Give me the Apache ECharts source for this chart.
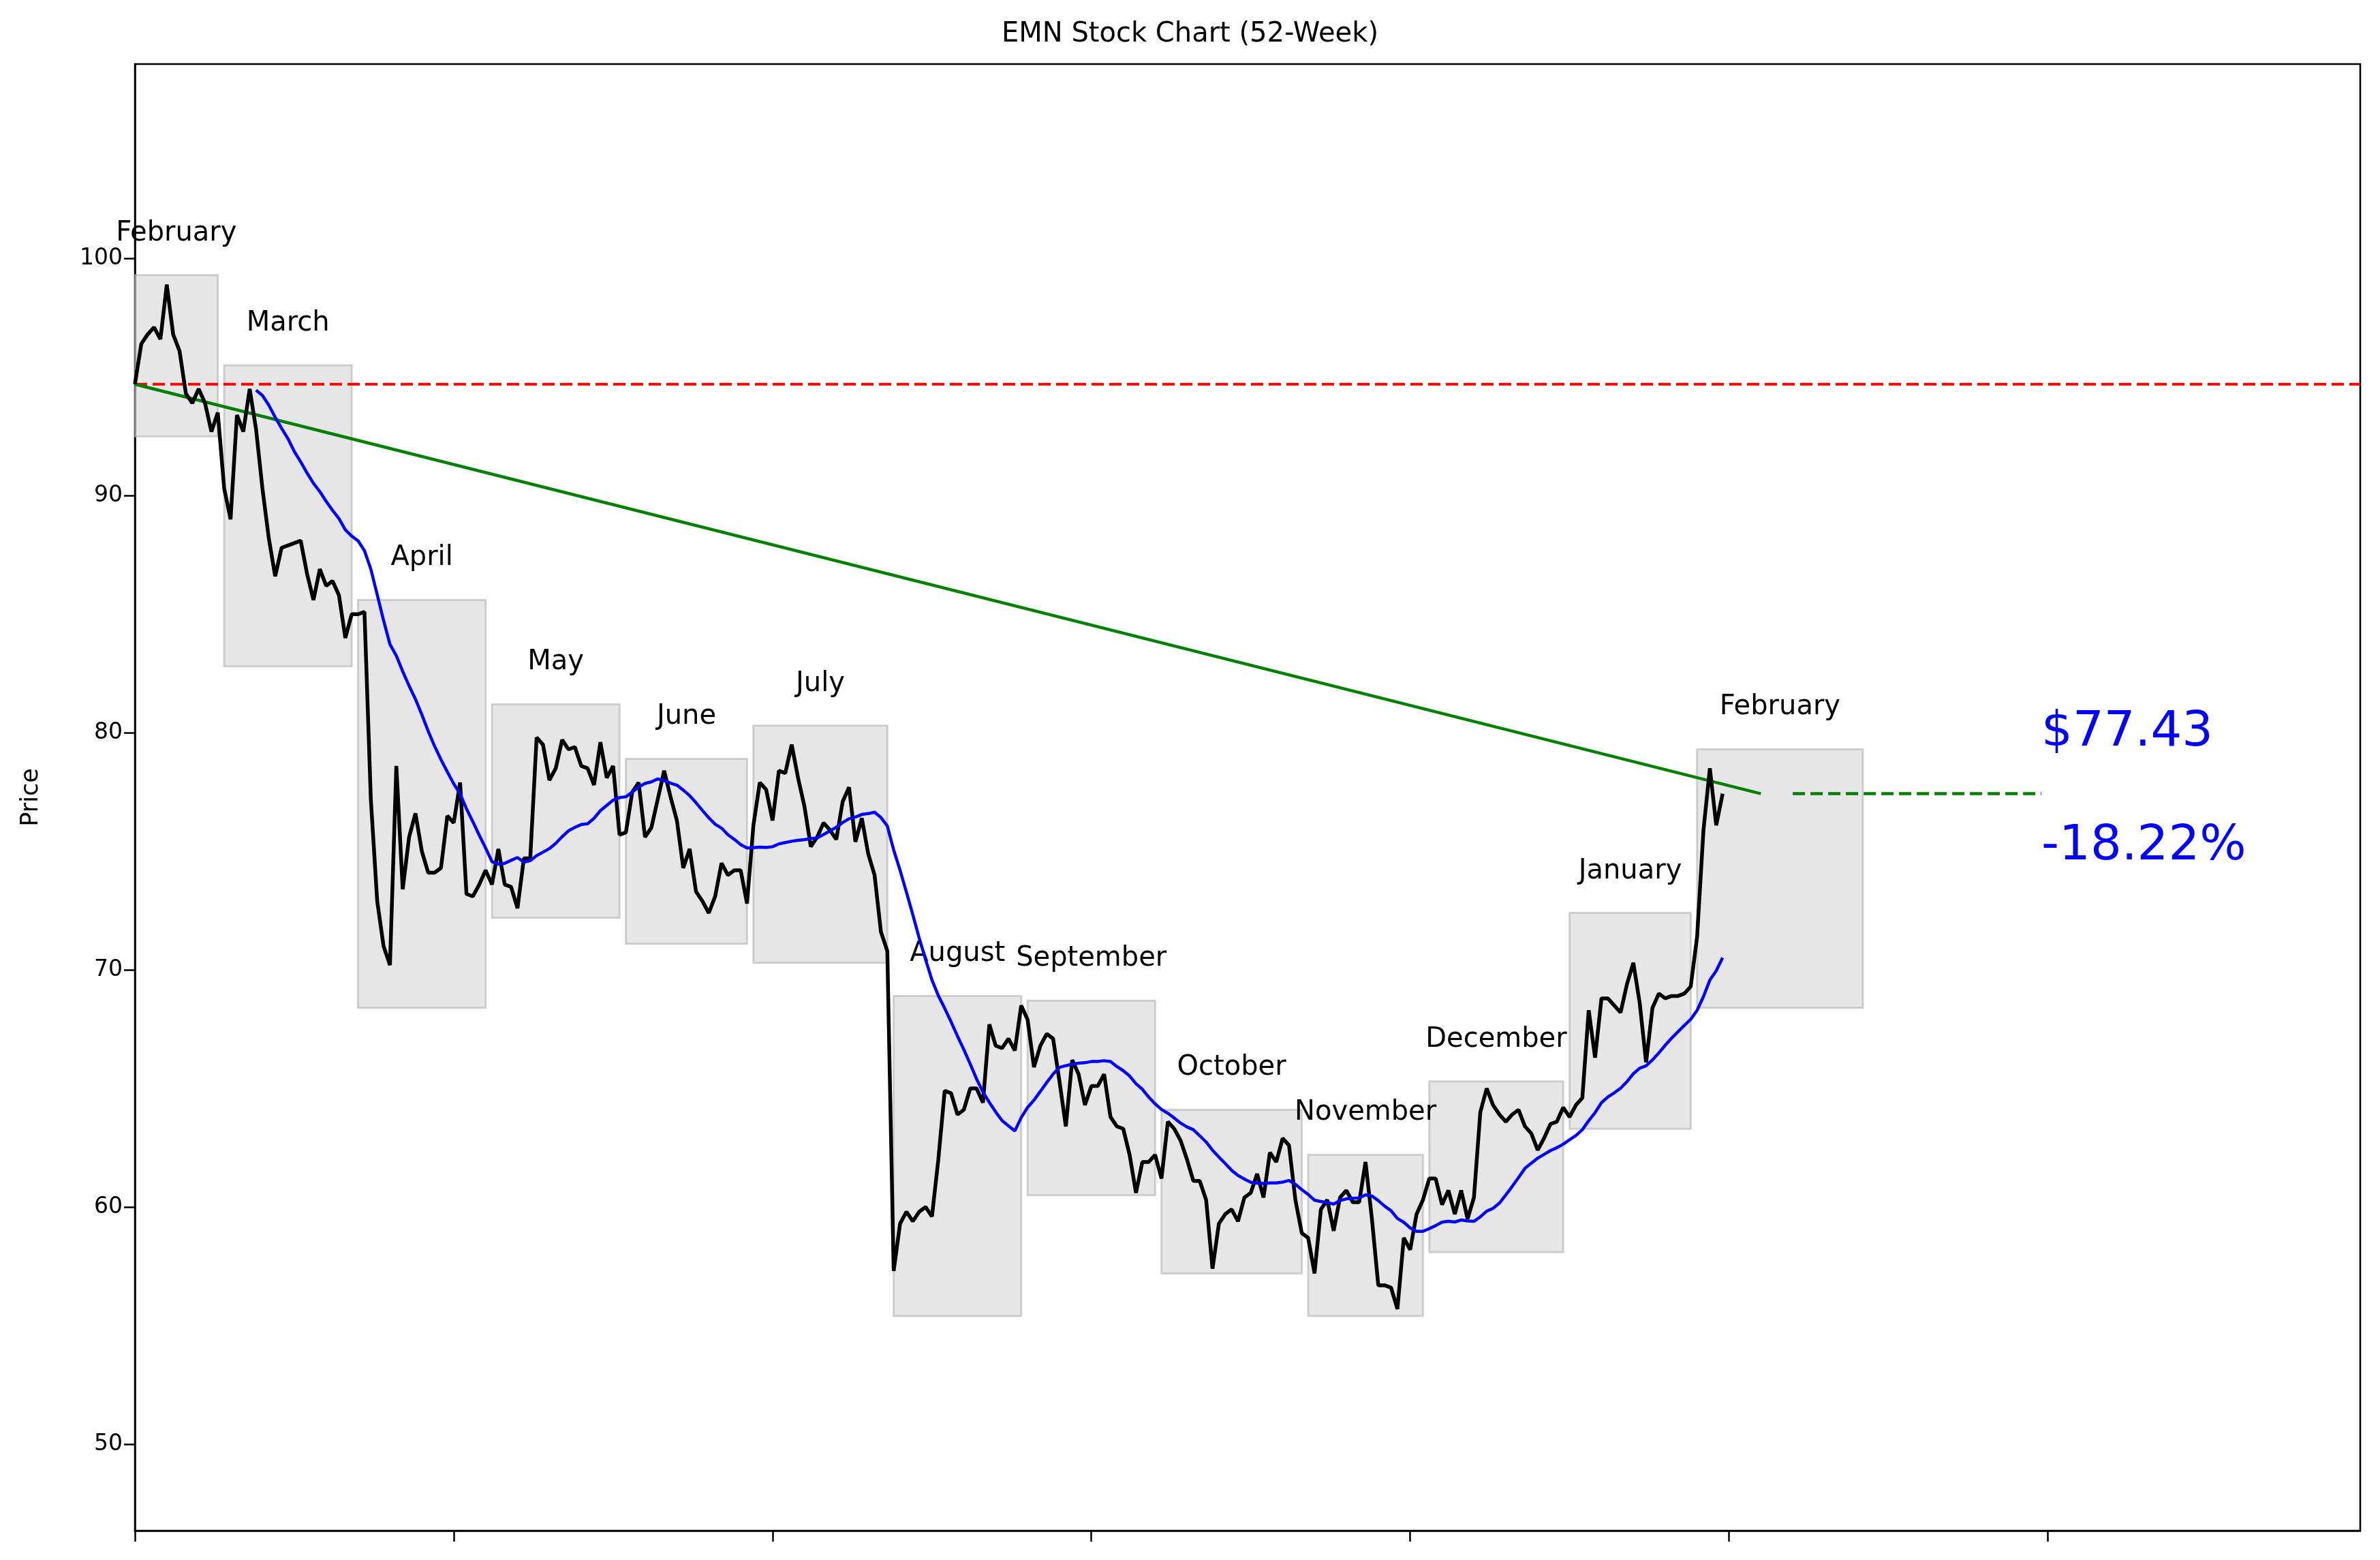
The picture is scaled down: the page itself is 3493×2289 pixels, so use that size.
<!DOCTYPE html>
<html><head><meta charset="utf-8">
<script src="https://cdn.jsdelivr.net/npm/echarts@6/dist/echarts.min.js"></script>
<style>html,body{margin:0;padding:0;background:#fff}#c{width:3493px;height:2289px}</style>
</head><body><div id="c"></div>
<script>
const prices = [
94.7,96.4,96.8,97.1,96.6,98.9,96.8,96.1,94.3,93.9,94.5,93.9,92.7,93.5,
90.3,89.0,93.4,92.7,94.5,92.8,90.3,88.2,86.6,87.8,87.9,88.0,88.1,86.7,85.6,86.9,86.2,86.4,85.8,84.0,85.0,
85.0,85.1,77.2,72.9,71.0,70.2,78.6,73.4,75.6,76.6,75.0,74.1,74.1,74.3,76.5,76.2,77.9,73.2,73.1,73.6,74.2,
73.6,75.1,73.6,73.5,72.6,74.7,74.7,79.8,79.5,78.0,78.5,79.7,79.3,79.4,78.6,78.5,77.8,79.6,78.1,78.6,75.7,
75.8,77.5,77.9,75.6,76.0,77.2,78.4,77.3,76.3,74.3,75.1,73.3,72.9,72.4,73.1,74.5,74.0,74.2,74.2,72.8,
76.1,77.9,77.6,76.3,78.4,78.3,79.5,78.1,76.9,75.2,75.6,76.2,75.9,75.5,77.1,77.7,75.4,76.4,74.9,74.0,71.6,70.8,
57.3,59.3,59.8,59.4,59.8,60.0,59.6,62.0,64.9,64.8,63.9,64.1,65.0,65.0,64.4,67.7,66.8,66.7,67.1,66.6,68.5,
67.9,65.9,66.8,67.3,67.1,65.3,63.4,66.2,65.6,64.3,65.1,65.1,65.6,63.8,63.4,63.3,62.2,60.6,61.9,61.9,62.2,
61.2,63.6,63.3,62.8,62.0,61.1,61.1,60.3,57.4,59.3,59.7,59.9,59.4,60.4,60.6,61.4,60.4,62.3,61.9,62.9,62.6,60.3,58.9,
58.7,57.2,59.9,60.3,59.0,60.4,60.7,60.2,60.2,61.9,59.5,56.7,56.7,56.6,55.7,58.7,58.2,59.7,60.3,
61.2,61.2,60.1,60.7,59.7,60.7,59.5,60.4,64.0,65.0,64.3,63.9,63.6,63.9,64.1,63.4,63.1,62.4,62.9,63.5,63.6,64.2,
63.8,64.3,64.6,68.3,66.3,68.8,68.8,68.5,68.2,69.4,70.3,68.6,66.1,68.4,69.0,68.8,68.9,68.9,69.0,69.3,
71.4,75.9,78.5,76.1,77.43
];
const monthNames = ["February","March","April","May","June","July","August","September","October","November","December","January","February"];
const boxStart = [0,14,35,56,77,97,119,140,161,184,203,225,245];
const boxEnd   = [13,34,55,76,96,118,139,160,183,202,224,244,271];
const boxLow   = [92.5,82.8,68.4,72.2,71.1,70.3,55.4,60.5,57.2,55.4,58.1,63.3,68.4];
const boxHigh  = [99.3,95.5,85.6,81.2,78.9,80.3,68.9,68.7,64.1,62.2,65.3,72.4,79.3];
const refPrice = 94.7;
const lastPrice = 77.43;
const pctChange = "-18.22%";
const yTicks = [50,60,70,80,90,100];
const xTicks = [0,50,100,150,200,250,300];
const maWindow = 20;

const priceData = prices.map((p,i)=>[i,p]);
const maData = [];
for (let i=maWindow-1;i<prices.length;i++){
  let s=0; for(let j=i-maWindow+1;j<=i;j++) s+=prices[j];
  maData.push([i, s/maWindow]);
}
const areas = boxStart.map((s,i)=>[
  {coord:[s,boxLow[i]], name:monthNames[i]},
  {coord:[boxEnd[i],boxHigh[i]]}
]);
const chart = echarts.init(document.getElementById('c'));
const font = 'DejaVu Sans';
chart.setOption({
  animation:false,
  textStyle:{fontFamily:font},
  title:{text:'EMN Stock Chart (52-Week)', left:'center', top:26,
    textStyle:{fontSize:40, fontWeight:'normal', color:'#000', fontFamily:font}},
  grid:{left:198, right:29, top:94, bottom:43, show:true, borderColor:'#000', borderWidth:2.5, backgroundColor:'transparent'},
  xAxis:{type:'value', min:0, max:349, splitLine:{show:false},
    axisLine:{show:true, onZero:false, lineStyle:{color:'#000', width:2.5}},
    axisTick:{show:true, length:16, lineStyle:{color:'#000', width:2.5}, customValues:xTicks},
    axisLabel:{show:false}},
  yAxis:{type:'value', min:46.35, max:108.2, splitLine:{show:false},
    name:'Price', nameLocation:'middle', nameGap:135, nameTextStyle:{fontSize:35, color:'#000', fontFamily:font},
    axisLine:{show:true, lineStyle:{color:'#000', width:2.5}},
    axisTick:{show:true, length:16, lineStyle:{color:'#000', width:2.5}, customValues:yTicks},
    axisLabel:{fontSize:33, color:'#000', margin:18, customValues:yTicks, fontFamily:font}},
  series:[
    {type:'line', data:[], silent:true,
     markArea:{silent:true, itemStyle:{color:'rgba(200,200,200,0.45)', borderColor:'rgba(180,180,180,0.6)', borderWidth:3},
       label:{show:true, position:'top', distance:40, fontSize:40, color:'#000', fontFamily:font},
       data:areas}},
    {type:'line', data:[[0,refPrice],[349,refPrice]], symbol:'none', silent:true,
     lineStyle:{color:'#ff0000', width:4, type:[18,8]}},
    {type:'line', data:[[0,refPrice],[255,lastPrice]], symbol:'none', silent:true,
     lineStyle:{color:'#008000', width:4.5}},
    {type:'line', data:[[260,lastPrice],[299,lastPrice]], symbol:'none', silent:true,
     lineStyle:{color:'#008000', width:4.5, type:[18,8]}},
    {type:'line', data:priceData, symbol:'none', lineStyle:{color:'#000', width:5.5}, z:5},
    {type:'line', data:maData, symbol:'none', lineStyle:{color:'#0000ff', width:4.5}, z:6},
    {type:'scatter', symbolSize:0, silent:true, itemStyle:{opacity:1}, data:[
      {value:[299,80.0], label:{show:true, formatter:'$'+lastPrice.toFixed(2)}},
      {value:[299,75.2], label:{show:true, formatter:pctChange}}],
     label:{position:'right', distance:0, fontSize:72, color:'#0000ff', fontFamily:font, opacity:1}}
  ]
});
</script></body></html>
